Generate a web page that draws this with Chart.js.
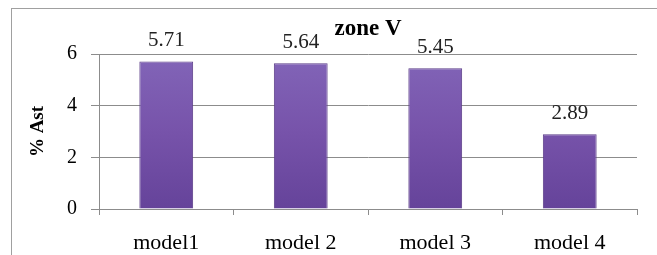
<!DOCTYPE html>
<html lang="en">
<head>
  <meta charset="UTF-8">
  <title>zone V</title>
  <script src="https://cdn.jsdelivr.net/npm/chart.js@4.4.0/dist/chart.umd.min.js"></script>
  <style>
    body { margin: 0; background: #fff; }
    #wrap { position: relative; width: 657px; height: 255px; }
    #frame {
      position: absolute; left: 11px; top: 8px; right: 0; bottom: 0;
      border-top: 1px solid #a0a0a0; border-left: 1px solid #a0a0a0;
      pointer-events: none;
    }
  </style>
</head>
<body>
  <div id="wrap">
    <canvas id="chart" width="657" height="255"></canvas>
    <div id="frame"></div>
  </div>

  <script>
    const models = ['model1', 'model 2', 'model 3', 'model 4'];
    const astValues = [5.71, 5.64, 5.45, 2.89];
    const yTicks = [0, 2, 4, 6];

    const serif = '"Liberation Serif", "Times New Roman", serif';

    // value labels above each bar
    const valueLabels = {
      id: 'valueLabels',
      afterDatasetsDraw(chart) {
        const ctx = chart.ctx;
        const meta = chart.getDatasetMeta(0);
        ctx.save();
        ctx.font = '21px ' + serif;
        ctx.fillStyle = '#222';
        ctx.textAlign = 'center';
        ctx.textBaseline = 'middle';
        meta.data.forEach((bar, i) => {
          ctx.fillText(astValues[i].toFixed(2), bar.x, bar.y - 21);
        });
        ctx.restore();
      }
    };

    function barFill(context) {
      const area = context.chart.chartArea;
      if (!area) return '#7a55ad';
      const g = context.chart.ctx.createLinearGradient(0, area.top, 0, area.bottom);
      g.addColorStop(0, '#8265b8');
      g.addColorStop(0.5, '#7753aa');
      g.addColorStop(1, '#65439a');
      return g;
    }

    new Chart(document.getElementById('chart'), {
      type: 'bar',
      data: {
        labels: models,
        datasets: [{
          data: astValues,
          backgroundColor: barFill,
          borderColor: '#5b3d88',
          borderWidth: 1,
          barPercentage: 0.4,
          categoryPercentage: 1
        }]
      },
      options: {
        responsive: false,
        animation: false,
        layout: { padding: { top: 10, right: 20, left: 0, bottom: 0 } },
        plugins: {
          legend: { display: false },
          tooltip: { enabled: false },
          title: {
            display: true,
            text: 'zone V',
            fullSize: false,
            color: '#000',
            font: { family: serif, size: 23, weight: 'bold' },
            padding: { top: 5.7, bottom: 10.7 }
          }
        },
        scales: {
          y: {
            min: 0,
            max: 6,
            afterBuildTicks(scale) { scale.ticks = yTicks.map(v => ({ value: v })); },
            afterFit(scale) { scale.width = 99; },
            border: { color: '#8c8c8c' },
            grid: { color: '#8c8c8c', tickLength: 8 },
            ticks: {
              color: '#000',
              padding: 14,
              font: { family: serif, size: 20 }
            },
            title: {
              display: true,
              text: '% Ast',
              color: '#000',
              font: { family: serif, size: 19, weight: 'bold' },
              padding: { top: 26.6, bottom: 0 }
            }
          },
          x: {
            afterFit(scale) { scale.height = 46; },
            border: { color: '#8c8c8c' },
            grid: { color: '#8c8c8c', drawOnChartArea: false, tickLength: 6, offset: true },
            ticks: {
              color: '#000',
              padding: 15,
              font: { family: serif, size: 22 }
            }
          }
        }
      },
      plugins: [valueLabels]
    });
  </script>
</body>
</html>
